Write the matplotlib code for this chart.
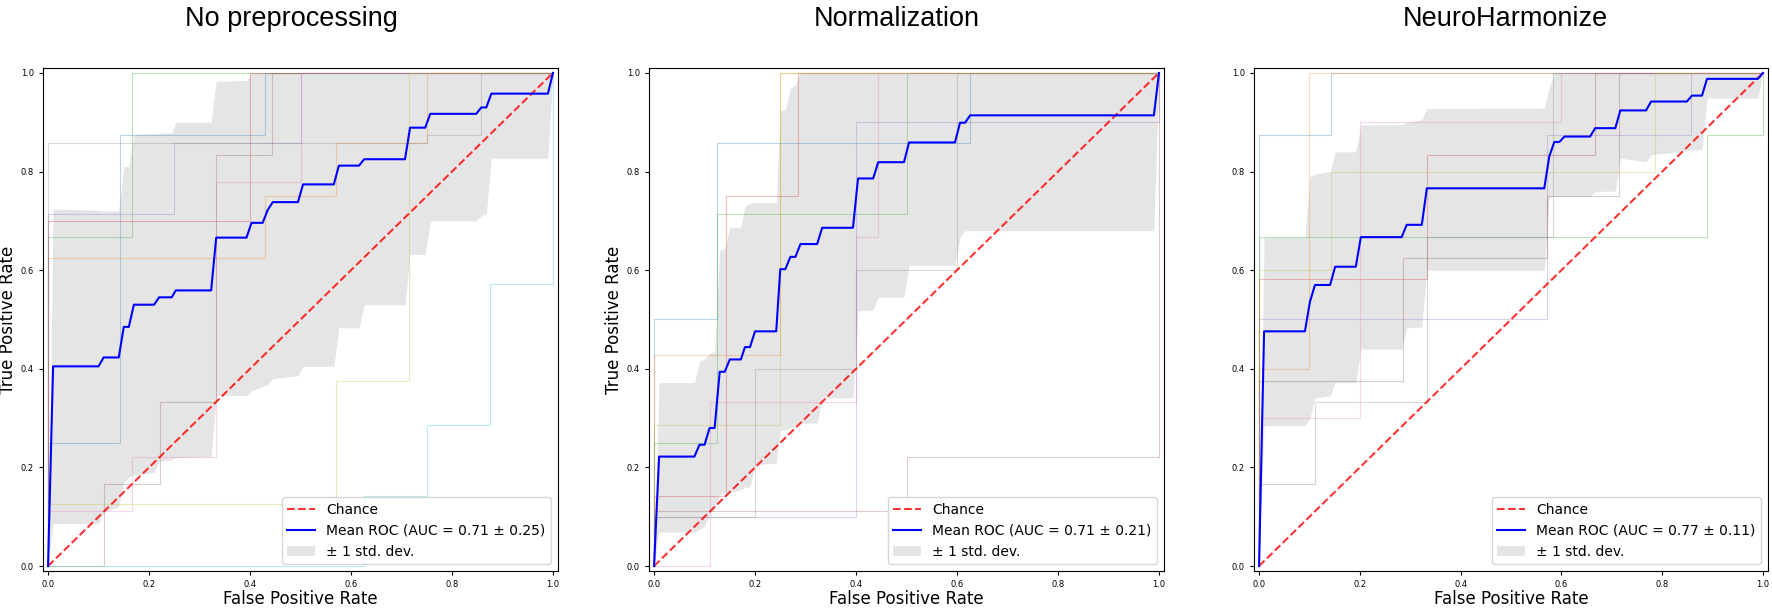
import matplotlib.pyplot as plt

# ---- data ----
titles = ['No preprocessing', 'Normalization', 'NeuroHarmonize']
auc_mean = [0.71, 0.71, 0.77]
auc_std = [0.25, 0.21, 0.11]

# mean ROC vertices
mean_fpr_1 = [0, 0.01, 0.10, 0.11, 0.14, 0.15, 0.16, 0.17, 0.21, 0.22, 0.245, 0.253,
              0.323, 0.333, 0.393, 0.403, 0.425, 0.435, 0.445, 0.495, 0.505, 0.566,
              0.576, 0.616, 0.626, 0.707, 0.717, 0.747, 0.757, 0.848, 0.858, 0.868,
              0.878, 0.99, 1.0]
mean_tpr_1 = [0, 0.405, 0.405, 0.423, 0.423, 0.485, 0.485, 0.530, 0.530, 0.545, 0.545,
              0.559, 0.559, 0.666, 0.666, 0.696, 0.696, 0.722, 0.738, 0.738, 0.774,
              0.774, 0.812, 0.812, 0.825, 0.825, 0.889, 0.889, 0.917, 0.917, 0.930,
              0.930, 0.958, 0.958, 1.0]
mean_fpr_2 = [0, 0.01, 0.08, 0.09, 0.10, 0.11, 0.12, 0.13, 0.14, 0.15, 0.172, 0.18,
              0.19, 0.20, 0.242, 0.25, 0.26, 0.27, 0.28, 0.29, 0.323, 0.333, 0.394,
              0.404, 0.434, 0.444, 0.495, 0.505, 0.596, 0.606, 0.616, 0.626, 0.99, 1.0]
mean_tpr_2 = [0, 0.222, 0.222, 0.246, 0.246, 0.280, 0.280, 0.394, 0.394, 0.419, 0.419,
              0.444, 0.444, 0.476, 0.476, 0.602, 0.602, 0.627, 0.627, 0.653, 0.653,
              0.686, 0.686, 0.786, 0.786, 0.819, 0.819, 0.859, 0.859, 0.899, 0.899,
              0.914, 0.914, 1.0]
mean_fpr_3 = [0, 0.01, 0.091, 0.101, 0.111, 0.141, 0.151, 0.192, 0.202, 0.283, 0.293,
              0.323, 0.333, 0.566, 0.576, 0.586, 0.596, 0.606, 0.657, 0.667, 0.707,
              0.717, 0.768, 0.778, 0.849, 0.859, 0.879, 0.889, 0.99, 1.0]
mean_tpr_3 = [0, 0.476, 0.476, 0.536, 0.570, 0.570, 0.607, 0.607, 0.667, 0.667, 0.692,
              0.692, 0.766, 0.766, 0.831, 0.860, 0.860, 0.871, 0.871, 0.888, 0.888,
              0.924, 0.924, 0.942, 0.942, 0.954, 0.954, 0.988, 0.988, 1.0]

# +/- 1 std band
band_x_1 = [0, 0.01, 0.10, 0.11, 0.14, 0.15, 0.16, 0.17, 0.21, 0.22, 0.245, 0.253, 0.323,
            0.333, 0.393, 0.403, 0.435, 0.445, 0.495, 0.505, 0.566, 0.576, 0.616, 0.626,
            0.707, 0.717, 0.747, 0.757, 0.848, 0.858, 0.868, 0.878, 0.99, 1.0]
band_lo_1 = [0, 0.086, 0.086, 0.11, 0.12, 0.17, 0.18, 0.185, 0.19, 0.213, 0.215, 0.22,
             0.222, 0.346, 0.346, 0.355, 0.368, 0.38, 0.386, 0.405, 0.405, 0.483, 0.483,
             0.53, 0.53, 0.632, 0.632, 0.70, 0.70, 0.71, 0.715, 0.827, 0.827, 1.0]
band_hi_1 = [0, 0.724, 0.722, 0.72, 0.72, 0.81, 0.81, 0.875, 0.877, 0.878, 0.878, 0.90,
             0.90, 0.983, 0.985, 1.0, 1.0, 1.0, 1.0, 1.0, 1.0, 1.0, 1.0, 1.0, 1.0, 1.0,
             1.0, 1.0, 1.0, 1.0, 1.0, 1.0, 1.0, 1.0]
band_x_2 = [0, 0.01, 0.08, 0.09, 0.10, 0.11, 0.12, 0.13, 0.14, 0.15, 0.172, 0.18, 0.19,
            0.20, 0.242, 0.25, 0.26, 0.27, 0.28, 0.29, 0.323, 0.333, 0.394, 0.404, 0.434,
            0.444, 0.495, 0.505, 0.596, 0.606, 0.616, 0.99, 1.0]
band_lo_2 = [0, 0.069, 0.069, 0.075, 0.08, 0.106, 0.115, 0.145, 0.15, 0.15, 0.155, 0.16,
             0.16, 0.205, 0.209, 0.276, 0.276, 0.28, 0.285, 0.29, 0.29, 0.341, 0.341,
             0.517, 0.52, 0.545, 0.545, 0.61, 0.61, 0.666, 0.68, 0.68, 1.0]
band_hi_2 = [0, 0.372, 0.372, 0.415, 0.42, 0.432, 0.435, 0.64, 0.645, 0.687, 0.687, 0.73,
             0.735, 0.737, 0.737, 0.924, 0.925, 0.97, 0.975, 1.0, 1.0, 1.0, 1.0, 1.0,
             1.0, 1.0, 1.0, 1.0, 1.0, 1.0, 1.0, 1.0, 1.0]
band_x_3 = [0, 0.01, 0.091, 0.101, 0.111, 0.141, 0.151, 0.192, 0.202, 0.283, 0.293,
            0.323, 0.333, 0.566, 0.576, 0.586, 0.657, 0.667, 0.707, 0.717, 0.768, 0.778,
            0.879, 0.889, 0.99, 1.0]
band_lo_3 = [0, 0.285, 0.285, 0.30, 0.341, 0.345, 0.372, 0.372, 0.44, 0.44, 0.483, 0.485,
             0.60, 0.60, 0.748, 0.75, 0.75, 0.76, 0.76, 0.827, 0.82, 0.834, 0.845, 0.949,
             0.949, 1.0]
band_hi_3 = [0, 0.667, 0.667, 0.79, 0.795, 0.80, 0.84, 0.84, 0.894, 0.895, 0.90, 0.905,
             0.928, 0.929, 0.97, 1.0, 1.0, 1.0, 1.0, 1.0, 1.0, 1.0, 1.0, 1.0, 1.0, 1.0]

# individual fold ROC curves (faint lines)
folds_fpr_1 = [[0, 0, 0.143, 0.143, 0.429, 0.429, 1],
               [0, 0, 0.429, 0.429, 0.571, 0.571, 0.75, 0.75, 1],
               [0, 0, 0.167, 0.167, 1],
               [0, 0, 0.4, 0.4, 1],
               [0, 0, 0.25, 0.25, 0.5, 0.5, 1],
               [0, 0.111, 0.111, 0.222, 0.222, 0.333, 0.333, 0.444, 0.444, 1],
               [0, 0, 0.167, 0.167, 0.333, 0.333, 0.5, 0.5, 1],
               [0, 0, 0.75, 0.75, 0.857, 0.857, 1],
               [0, 0, 0.571, 0.571, 0.714, 0.714, 1],
               [0, 0.625, 0.625, 0.75, 0.75, 0.875, 0.875, 1, 1]]
folds_tpr_1 = [[0, 0.25, 0.25, 0.875, 0.875, 1, 1],
               [0, 0.625, 0.625, 0.75, 0.75, 0.857, 0.857, 1, 1],
               [0, 0.667, 0.667, 1, 1],
               [0, 0.7, 0.7, 1, 1],
               [0, 0.714, 0.714, 0.857, 0.857, 1, 1],
               [0, 0, 0.167, 0.167, 0.333, 0.333, 0.833, 0.833, 1, 1],
               [0, 0.111, 0.111, 0.222, 0.222, 0.778, 0.778, 1, 1],
               [0, 0.857, 0.857, 0.875, 0.875, 1, 1],
               [0, 0.125, 0.125, 0.375, 0.375, 1, 1],
               [0, 0, 0.143, 0.143, 0.286, 0.286, 0.571, 0.571, 1]]
folds_fpr_2 = [[0, 0, 0.125, 0.125, 0.625, 0.625, 1],
               [0, 0, 0.25, 0.25, 1],
               [0, 0, 0.125, 0.125, 0.5, 0.5, 1],
               [0, 0, 0.143, 0.143, 0.286, 0.286, 1],
               [0, 0, 0.4, 0.4, 1, 1],
               [0, 0, 0.5, 0.5, 1, 1],
               [0, 0.111, 0.111, 0.4, 0.4, 0.444, 0.444, 1],
               [0, 0, 0.2, 0.2, 0.4, 0.4, 0.6, 0.6, 1],
               [0, 0, 0.25, 0.25, 1]]
folds_tpr_2 = [[0, 0.5, 0.5, 0.857, 0.857, 1, 1],
               [0, 0.429, 0.429, 1, 1],
               [0, 0.25, 0.25, 0.714, 0.714, 1, 1],
               [0, 0.143, 0.143, 0.75, 0.75, 1, 1],
               [0, 0.1, 0.1, 0.9, 0.9, 1],
               [0, 0.111, 0.111, 0.222, 0.222, 1],
               [0, 0, 0.333, 0.333, 0.667, 0.667, 1, 1],
               [0, 0.1, 0.1, 0.4, 0.4, 0.6, 0.6, 1, 1],
               [0, 0.286, 0.286, 1, 1]]
folds_fpr_3 = [[0, 0, 0.143, 0.143, 1],
               [0, 0, 0.1, 0.1, 1],
               [0, 0, 0.889, 0.889, 1, 1],
               [0, 0, 0.333, 0.333, 0.667, 0.667, 1],
               [0, 0, 0.571, 0.571, 0.857, 0.857, 1],
               [0, 0, 0.286, 0.286, 0.571, 0.571, 0.714, 0.714, 1],
               [0, 0, 0.2, 0.2, 0.6, 0.6, 1],
               [0, 0, 0.111, 0.111, 0.333, 0.333, 0.583, 0.583, 1],
               [0, 0, 0.143, 0.143, 0.786, 0.786, 1]]
folds_tpr_3 = [[0, 0.875, 0.875, 1, 1],
               [0, 0.4, 0.4, 1, 1],
               [0, 0.667, 0.667, 0.875, 0.875, 1],
               [0, 0.583, 0.583, 0.833, 0.833, 1, 1],
               [0, 0.5, 0.5, 0.875, 0.875, 1, 1],
               [0, 0.375, 0.375, 0.625, 0.625, 0.75, 0.75, 1, 1],
               [0, 0.3, 0.3, 0.9, 0.9, 1, 1],
               [0, 0.167, 0.167, 0.333, 0.333, 0.667, 0.667, 1, 1],
               [0, 0.6, 0.6, 0.8, 0.8, 1, 1]]

panels = [
    (mean_fpr_1, mean_tpr_1, band_x_1, band_lo_1, band_hi_1, folds_fpr_1, folds_tpr_1),
    (mean_fpr_2, mean_tpr_2, band_x_2, band_lo_2, band_hi_2, folds_fpr_2, folds_tpr_2),
    (mean_fpr_3, mean_tpr_3, band_x_3, band_lo_3, band_hi_3, folds_fpr_3, folds_tpr_3),
]

W, H = 1772, 609
fig = plt.figure(figsize=(W / 100, H / 100), dpi=100)

# axes boxes in pixels: left, right
ax_px = [(43, 558), (649, 1164), (1254, 1768)]
top_px, bot_px = 68, 571
title_x = [291, 897, 1505]

for i, (mf, mt, bx, blo, bhi, ffs, fts) in enumerate(panels):
    l, r = ax_px[i]
    ax = fig.add_axes([l / W, 1 - bot_px / H, (r - l) / W, (bot_px - top_px) / H])

    for j, (ff, ft) in enumerate(zip(ffs, fts)):
        ax.plot(ff, ft, lw=0.8, alpha=0.3, color='C%d' % j)

    ax.plot([0, 1], [0, 1], linestyle='--', lw=1.5, color='r', alpha=0.8, label='Chance')
    ax.plot(mf, mt, color='b', lw=1.5,
            label='Mean ROC (AUC = %0.2f \u00b1 %0.2f)' % (auc_mean[i], auc_std[i]))
    ax.fill_between(bx, blo, bhi, color='grey', alpha=0.2, lw=0,
                    label='\u00b1 1 std. dev.')

    ax.set_xlim(-0.01, 1.01)
    ax.set_ylim(-0.01, 1.01)
    ax.tick_params(labelsize=6, length=3)
    ax.set_xlabel('False Positive Rate', fontsize=12, labelpad=1)
    if i < 2:
        ax.set_ylabel('True Positive Rate', fontsize=12, labelpad=3)
    ax.legend(loc='lower right', fontsize=10)

    fig.text(title_x[i] / W, 1 - 26 / H, titles[i], ha='center', va='baseline',
             fontsize=19.5, family='Liberation Sans')

fig.savefig('out.png', dpi=100)
